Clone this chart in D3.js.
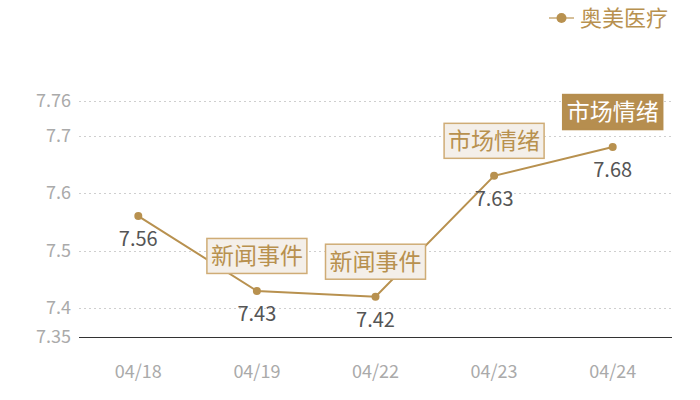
<!DOCTYPE html>
<html>
<head>
<meta charset="utf-8">
<script src="https://cdn.jsdelivr.net/npm/d3@7"></script>
<style>
  body { margin: 0; background: #fff; }
  svg { display: block; font-family: "Noto Sans CJK SC", "Noto Sans", sans-serif; }
</style>
</head>
<body>
<svg width="700" height="400"></svg>
<script>
var dates = ["04/18", "04/19", "04/22", "04/23", "04/24"];
var prices = [7.56, 7.43, 7.42, 7.63, 7.68];
var notes = ["", "新闻事件", "新闻事件", "市场情绪", "市场情绪"];
var yTicks = [7.35, 7.4, 7.5, 7.6, 7.7, 7.76];
var seriesName = "奥美医疗";

var gold = "#b8914f";
var svg = d3.select("svg");

var xScale = d3.scaleBand().domain(dates).range([79, 672]);
var yScale = d3.scaleLinear().domain([7.35, 7.76]).range([337, 101]);
var cx = function(d) { return xScale(d) + xScale.bandwidth() / 2; };

// grid
svg.append("g").selectAll("line")
    .data(yTicks.slice(1))
    .enter().append("line")
    .attr("x1", 79).attr("x2", 672)
    .attr("y1", d => Math.round(yScale(d)) + 0.5).attr("y2", d => Math.round(yScale(d)) + 0.5)
    .attr("stroke", "#cfcfcf")
    .attr("stroke-dasharray", "2,3");

svg.append("line")
    .attr("x1", 79).attr("x2", 672)
    .attr("y1", yScale(7.35) + 0.5).attr("y2", yScale(7.35) + 0.5)
    .attr("stroke", "#333").attr("stroke-width", 1.2)
    .attr("shape-rendering", "crispEdges");

// y labels
svg.append("g").selectAll("text")
    .data(yTicks)
    .enter().append("text")
    .attr("x", 71)
    .attr("y", d => yScale(d) + 6)
    .attr("text-anchor", "end")
    .attr("font-size", 18)
    .attr("fill", "#aaa")
    .text(d => d);

// x labels
svg.append("g").selectAll("text")
    .data(dates)
    .enter().append("text")
    .attr("x", d => cx(d))
    .attr("y", 378)
    .attr("text-anchor", "middle")
    .attr("font-size", 18)
    .attr("fill", "#aaa")
    .text(d => d);

var pts = dates.map((d, i) => ({ date: d, v: prices[i], note: notes[i], i: i }));

var line = d3.line().x(d => cx(d.date)).y(d => yScale(d.v));
svg.append("path")
    .datum(pts)
    .attr("d", line)
    .attr("fill", "none")
    .attr("stroke", gold)
    .attr("stroke-width", 2);

svg.append("g").selectAll("circle")
    .data(pts)
    .enter().append("circle")
    .attr("cx", d => cx(d.date))
    .attr("cy", d => yScale(d.v))
    .attr("r", 4)
    .attr("fill", gold);

svg.append("g").selectAll("text")
    .data(pts)
    .enter().append("text")
    .attr("x", d => cx(d.date))
    .attr("y", d => yScale(d.v) + 30)
    .attr("text-anchor", "middle")
    .attr("font-size", 20)
    .attr("fill", "#555")
    .text(d => d.v.toFixed(2));

// annotation boxes
var notePts = pts.filter(d => d.note);
var last = pts.length - 1;
var boxes = svg.append("g").selectAll("g")
    .data(notePts)
    .enter().append("g")
    .attr("transform", d => "translate(" + cx(d.date) + "," + (yScale(d.v) - 35) + ")");

boxes.append("rect")
    .attr("x", -50).attr("y", -17.5)
    .attr("width", 100).attr("height", 35)
    .attr("fill", d => d.i === last ? "#b68e4f" : "#f4efe9")
    .attr("stroke", d => d.i === last ? "#b68e4f" : "#cfac76")
    .attr("stroke-width", 1.5);

boxes.append("text")
    .attr("y", 8)
    .attr("text-anchor", "middle")
    .attr("font-size", 23)
    .attr("fill", d => d.i === last ? "#fff" : "#b8914f")
    .text(d => d.note);

// legend
var lg = svg.append("g").attr("transform", "translate(549,18)");
lg.append("line").attr("x1", 0).attr("x2", 25).attr("stroke", "#d6bf98").attr("stroke-width", 2);
lg.append("circle").attr("cx", 12.5).attr("r", 5).attr("fill", gold);
lg.append("text")
    .attr("x", 31).attr("y", 8)
    .attr("font-size", 22)
    .attr("fill", gold)
    .text(seriesName);
</script>
</body>
</html>
